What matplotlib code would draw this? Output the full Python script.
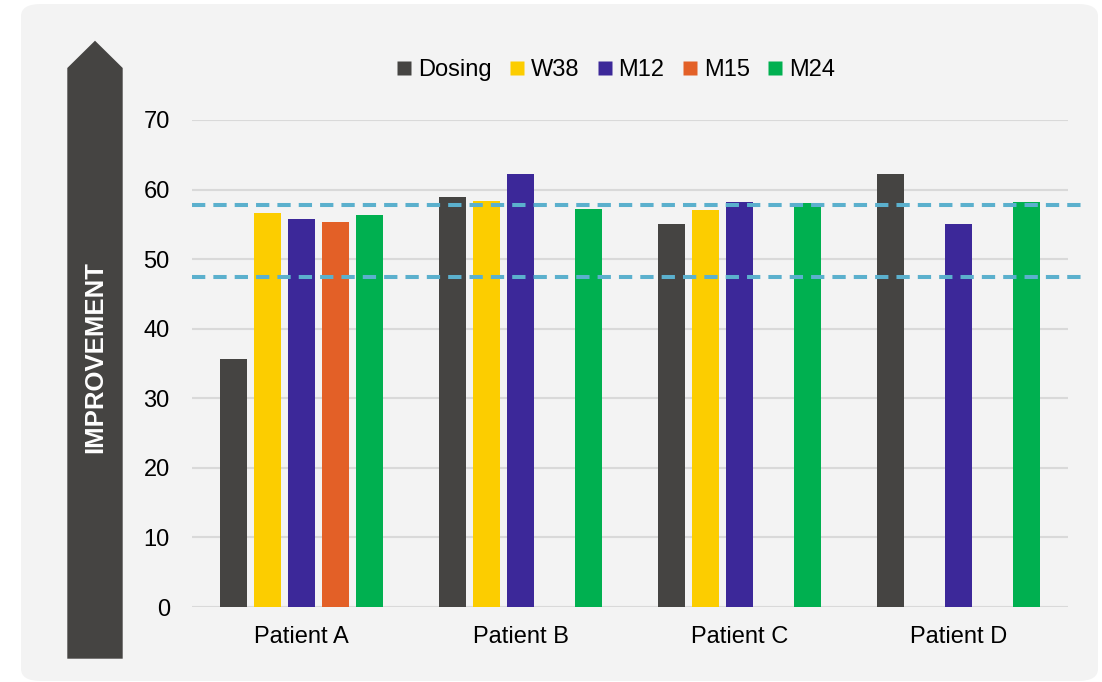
import matplotlib.pyplot as plt
import numpy as np
from matplotlib.patches import FancyBboxPatch, Polygon
from matplotlib.lines import Line2D

plt.rcParams['font.family'] = ['Liberation Sans', 'DejaVu Sans']

patients = ['Patient A', 'Patient B', 'Patient C', 'Patient D']
series = ['Dosing', 'W38', 'M12', 'M15', 'M24']
dosing = [35.7, 59.0, 55.1, 62.2]
w38 = [56.7, 58.4, 57.1, np.nan]
m12 = [55.8, 62.2, 58.2, 55.1]
m15 = [55.3, np.nan, np.nan, np.nan]
m24 = [56.4, 57.2, 58.0, 58.2]
ref_lines = [57.8, 47.4]
y_ticks = [0, 10, 20, 30, 40, 50, 60, 70]

colors = ['#454442', '#fccd00', '#3c2899', '#e36027', '#00b050']
values = [dosing, w38, m12, m15, m24]

W, H = 1102, 682
fig = plt.figure(figsize=(W / 100, H / 100), dpi=100)
fig.patch.set_facecolor('white')

# light rounded panel behind everything
panel = FancyBboxPatch((21 / W, 1 - 681 / H), (1098 - 21) / W, (681 - 4) / H,
                       boxstyle='round,pad=0,rounding_size=0.018',
                       transform=fig.transFigure, facecolor='#f3f3f3',
                       edgecolor='none', zorder=-2)
fig.patches.append(panel)

# arrow-shaped y label
pts = [(67.3, 658.7), (67.3, 68), (95, 40.7), (122.7, 68), (122.7, 658.7)]
arrow = Polygon([(x / W, 1 - y / H) for x, y in pts], closed=True,
                transform=fig.transFigure, facecolor='#454442',
                edgecolor='none', zorder=-1)
fig.patches.append(arrow)
fig.text(95 / W, 1 - 357 / H, 'IMPROVEMENT', rotation=90, color='white',
         fontsize=18.5, fontweight='bold', ha='center', va='center')

ax = fig.add_axes([192 / W, 1 - 607 / H, (1068 - 192) / W, (607 - 120) / H])
ax.set_facecolor('none')
ax.set_zorder(2)

x = np.arange(len(patients))
step = 0.155
width = 0.122
for i, (vals, c) in enumerate(zip(values, colors)):
    ax.bar(x + (i - 2) * step, vals, width=width, color=c, zorder=3)

ax.set_xlim(-0.5, 3.5)
ax.set_ylim(0, 70)
ax.set_yticks(y_ticks)
ax.set_xticks(x)
ax.set_xticklabels(patients)
ax.tick_params(length=0, labelsize=17, colors='black')
ax.tick_params(axis='y', pad=16)
ax.tick_params(axis='x', pad=14)
ax.yaxis.grid(True, color='#d9d9d9', linewidth=1.5, zorder=0)
ax.set_axisbelow(True)
for s in ax.spines.values():
    s.set_visible(False)

for v in ref_lines:
    ax.plot([-0.5, 3.58], [v, v], color='#5bb0cd', linewidth=2.9,
            dashes=(3.3, 2.0), dash_capstyle='butt', clip_on=False, zorder=4)

handles = [Line2D([], [], marker='s', linestyle='none', markersize=9.6,
                  markerfacecolor=c, markeredgecolor='none') for c in colors]
fig.legend(handles, series, loc='center', bbox_to_anchor=(616 / W, 1 - 70 / H),
           ncol=5, frameon=False, fontsize=17, handlelength=0.6,
           handletextpad=0.28, columnspacing=0.78)

fig.savefig('out.png', dpi=100)
